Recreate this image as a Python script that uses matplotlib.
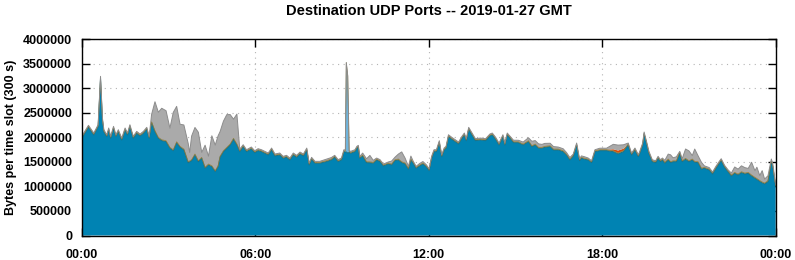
import numpy as np
import matplotlib
matplotlib.use("Agg")
import matplotlib.pyplot as plt

plt.rcParams['font.family'] = ['Liberation Sans', 'DejaVu Sans']

# time of day in minutes, values in kB per 300 s slot
t_min = [0, 14, 25, 34, 39, 43, 46, 52, 56, 60, 66, 71, 76, 83, 90, 95, 100, 107, 114, 121,
         128, 135, 140, 145, 152, 159, 166, 175, 183, 190, 197, 204, 212, 221, 224, 228, 235, 242, 249, 256,
         263, 270, 277, 283, 287, 294, 301, 308, 315, 322, 328, 335, 342, 352, 359, 366, 373, 380, 387, 394,
         401, 411, 418, 425, 432, 439, 446, 453, 460, 467, 472, 477, 484, 494, 508, 518, 525, 532, 539, 544,
         547, 549, 552, 555, 558, 567, 571, 574, 577, 583, 591, 598, 605, 612, 619, 626, 636, 643, 650, 657,
         664, 671, 678, 683, 688, 694, 701, 708, 715, 721, 726, 731, 736, 742, 747, 752, 756, 761, 768, 775,
         782, 789, 794, 798, 803, 810, 817, 827, 838, 847, 852, 859, 866, 874, 878, 883, 889, 896, 906, 916,
         927, 934, 941, 948, 955, 961, 972, 979, 989, 999, 1006, 1013, 1020, 1027, 1033, 1037, 1044, 1051, 1058, 1065,
         1075, 1089, 1103, 1113, 1124, 1134, 1141, 1148, 1155, 1158, 1164, 1167, 1172, 1177, 1184, 1191, 1196, 1201, 1205, 1210,
         1217, 1222, 1227, 1234, 1241, 1246, 1253, 1260, 1267, 1272, 1279, 1286, 1292, 1302, 1309, 1316, 1323, 1327, 1334, 1341,
         1348, 1355, 1362, 1369, 1376, 1383, 1390, 1397, 1401, 1407, 1412, 1417, 1424, 1431, 1434, 1440]

blue = [1980, 2203, 2046, 2215, 3200, 2351, 2113, 2011, 2148, 1979, 2182, 2011, 2113, 1944, 2148, 2046, 2215, 1979, 2080, 2026,
        2080, 2162, 1979, 2296, 2113, 1979, 1930, 1910, 1775, 1726, 1889, 1795, 1740, 1482, 1500, 1523, 1639, 1502, 1571, 1368,
        1435, 1400, 1300, 1400, 1592, 1706, 1775, 1842, 1958, 1842, 1706, 1808, 1706, 1761, 1686, 1727, 1706, 1673, 1639, 1740,
        1619, 1639, 1571, 1592, 1537, 1639, 1592, 1659, 1619, 1740, 1435, 1551, 1470, 1470, 1504, 1537, 1592, 1504, 1537, 1706,
        1700, 1700, 1680, 1690, 1673, 1706, 1775, 1795, 1571, 1618, 1482, 1480, 1470, 1537, 1503, 1415, 1456, 1435, 1523, 1537,
        1482, 1456, 1348, 1537, 1470, 1368, 1415, 1456, 1401, 1319, 1571, 1706, 1706, 1889, 1604, 1740, 1775, 2011, 1958, 1910,
        1863, 1979, 2046, 1930, 2162, 2046, 1930, 1944, 1930, 2026, 2046, 1958, 1842, 2011, 1842, 2046, 1979, 1889, 1889, 1842,
        1910, 1808, 1842, 1775, 1775, 1795, 1808, 1740, 1740, 1706, 1639, 1537, 1618, 1842, 1523, 1571, 1551, 1537, 1482, 1706,
        1727, 1727, 1706, 1660, 1706, 1842, 1639, 1740, 1604, 1673, 1842, 2066, 1876, 1673, 1502, 1482, 1571, 1502, 1537, 1470,
        1537, 1482, 1502, 1502, 1673, 1502, 1551, 1502, 1537, 1490, 1482, 1350, 1368, 1333, 1252, 1368, 1470, 1523, 1388, 1299,
        1211, 1265, 1231, 1279, 1252, 1265, 1211, 1164, 1140, 1100, 1070, 1048, 1096, 1502, 1401, 993]

gray = [20, 20, 20, 20, 20, 20, 20, 20, 20, 20, 20, 20, 20, 20, 20, 20, 20, 20, 20, 20,
        20, 20, 20, 150, 590, 510, 640, 610, 390, 760, 720, 450, 490, 370, 170, 480, 540, 580, 100, 450,
        160, 610, 520, 610, 500, 600, 665, 600, 390, 610, 30, 20, 20, 20, 20, 20, 20, 20, 20, 20,
        20, 20, 20, 20, 20, 20, 20, 20, 20, 20, 20, 20, 20, 20, 30, 30, 20, 20, 20, 20,
        20, 0, 0, 20, 20, 20, 20, 20, 20, 40, 60, 130, 40, 20, 20, 20, 20, 60, 50, 100,
        200, 100, 40, 60, 20, 20, 30, 30, 20, 20, 20, 20, 20, 20, 20, 20, 20, 20, 20, 20,
        20, 20, 20, 20, 20, 20, 20, 20, 20, 20, 20, 20, 20, 20, 20, 20, 20, 30, 30, 40,
        60, 90, 70, 70, 60, 60, 50, 50, 40, 40, 30, 30, 20, 20, 20, 30, 30, 20, 20, 20,
        30, 30, 100, 110, 80, 20, 20, 20, 20, 20, 20, 20, 20, 20, 20, 20, 20, 20, 20, 40,
        100, 140, 60, 80, 20, 40, 190, 200, 70, 250, 120, 120, 30, 30, 20, 20, 20, 20, 20, 20,
        40, 110, 100, 120, 110, 80, 260, 135, 230, 100, 230, 80, 100, 35, 40, 20]

# layers that only show up in a few slots
lightblue_pts = {549: 1800, 552: 1550}
red_pts = {1103: 30, 1113: 50, 1124: 40}
thin_green = 10
thin_orange = 10

t = np.array(t_min)
b = np.array(blue) * 1000.0
g = np.array(gray) * 1000.0
lb = np.zeros(len(t))
rd = np.zeros(len(t))
for k, v in lightblue_pts.items():
    lb[t_min.index(k)] = v * 1000.0
for k, v in red_pts.items():
    rd[t_min.index(k)] = v * 1000.0
gr = np.full(len(t), thin_green * 1000.0)
orng = np.full(len(t), thin_orange * 1000.0)

# fill colour, edge colour (None = no outline), edge width
layers = [(b, '#0083b3', '#1c6f86', 0.7),
          (lb, '#6fb4dc', None, 0),
          (gr, '#5e9a2a', None, 0),
          (orng, '#c8801e', '#8f7a3a', 0.5),
          (rd, '#dc4b0a', None, 0),
          (g, '#aaaaaa', '#8c8c8c', 0.7)]

fig = plt.figure(figsize=(7.95, 2.6), dpi=100)
ax = fig.add_axes([0.1028, 0.0942, 0.8729, 0.7558])

base = np.zeros(len(t))
for vals, fc, ec, lw in layers:
    top = base + vals
    ax.fill_between(t, base, top, facecolor=fc, edgecolor='none', lw=0, zorder=2)
    if ec is not None:
        ax.plot(t, top, color=ec, lw=lw, zorder=3)
    base = top

ax.set_xlim(0, 1440)
ax.set_ylim(0, 4000000)
ax.set_xticks([0, 360, 720, 1080, 1440])
ax.set_xticklabels(['00:00', '06:00', '12:00', '18:00', '00:00'])
yt = np.arange(0, 4000001, 500000)
ax.set_yticks(yt)
ax.set_yticklabels([str(int(v)) for v in yt])

ax.set_axisbelow(True)
ax.grid(True, color='#b4b4b4', linestyle=(0, (1, 4)), lw=0.8, zorder=0)
ax.tick_params(direction='in', top=True, right=True, length=6, width=1, pad=7)
ax.tick_params(axis='x', pad=10)
for lbl in ax.get_xticklabels() + ax.get_yticklabels():
    lbl.set_fontweight('bold')
    lbl.set_fontsize(9)
for s in ax.spines.values():
    s.set_linewidth(1)
    s.set_zorder(5)

ax.set_ylabel('Bytes per time slot (300 s)', fontsize=9, fontweight='bold', labelpad=4)
fig.suptitle('Destination UDP Ports -- 2019-01-27 GMT', x=0.539, y=0.985,
             fontsize=10.5, fontweight='bold')

fig.savefig('out.png', dpi=100)
